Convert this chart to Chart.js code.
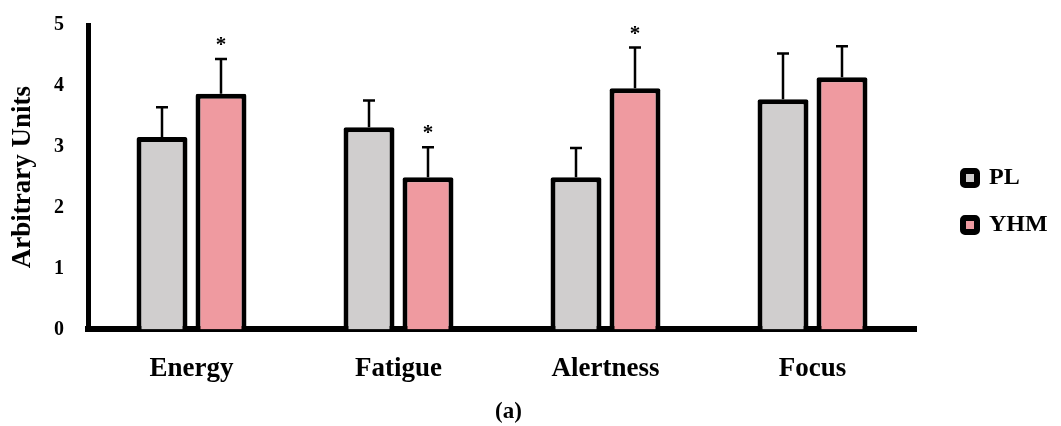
<!DOCTYPE html>
<html>
<head>
<meta charset="utf-8">
<script src="https://cdn.jsdelivr.net/npm/chart.js@4.4.0/dist/chart.umd.min.js"></script>
<style>
  html, body { margin: 0; padding: 0; background: #fff; }
  #contenedor { width: 1061px; height: 426px; }
</style>
</head>
<body>
<div id="contenedor"><canvas id="grafica-barras"></canvas></div>
<script>
// datos
var categorias = ['Energy', 'Fatigue', 'Alertness', 'Focus'];
var valoresPL = [3.16, 3.32, 2.50, 3.78];
var erroresPL = [0.49, 0.44, 0.48, 0.75];
var valoresYHM = [3.87, 2.50, 3.96, 4.14];
var erroresYHM = [0.57, 0.49, 0.67, 0.51];
var asteriscoPL = [false, false, false, false];
var asteriscoYHM = [true, true, true, false];
var ticksY = [0, 1, 2, 3, 4, 5];

var errores = [erroresPL, erroresYHM];
var asteriscos = [asteriscoPL, asteriscoYHM];
var fuente = 'Liberation Serif';

// barras de error (solo hacia arriba) y asteriscos
var pluginErrores = {
    id: 'errores',
    afterDatasetsDraw: function(chart){
        var ctx = chart.ctx;
        var escalaY = chart.scales.y;
        chart.data.datasets.forEach(function(ds, i){
            chart.getDatasetMeta(i).data.forEach(function(barra, j){
                var arriba = escalaY.getPixelForValue(ds.data[j] + errores[i][j]);
                ctx.save();
                ctx.strokeStyle = '#000';
                ctx.lineWidth = 2.5;
                ctx.beginPath();
                ctx.moveTo(barra.x, barra.y);
                ctx.lineTo(barra.x, arriba);
                ctx.moveTo(barra.x - 6, arriba);
                ctx.lineTo(barra.x + 6, arriba);
                ctx.stroke();
                if(asteriscos[i][j]){
                    ctx.fillStyle = '#000';
                    ctx.font = 'bold 21px "' + fuente + '"';
                    ctx.textAlign = 'center';
                    ctx.textBaseline = 'alphabetic';
                    ctx.fillText('*', barra.x, arriba - 8);
                }
                ctx.restore();
            });
        });
    }
};

// mueve la leyenda a su sitio despues del layout (y agranda su recorte)
var pluginLeyenda = {
    id: 'moverLeyenda',
    afterLayout: function(chart){
        var l = chart.legend;
        l.left += 24; l.right += 44;
        l.top -= 24; l.bottom -= 24;
    }
};

var canvas = document.getElementById('grafica-barras').getContext('2d');
var grafica = new Chart(canvas, {
    type: 'bar',
    data: {
        labels: categorias,
        datasets: [{
            label: 'PL',
            data: valoresPL,
            backgroundColor: '#D0CECE',
            borderColor: '#000',
            borderWidth: 5,
            borderRadius: 2,
            barPercentage: 0.864,
            categoryPercentage: 0.57
        },{
            label: 'YHM',
            data: valoresYHM,
            backgroundColor: '#EF9AA0',
            borderColor: '#000',
            borderWidth: 5,
            borderRadius: 2,
            barPercentage: 0.864,
            categoryPercentage: 0.57
        }]
    },
    options: {
        responsive: true,
        maintainAspectRatio: false,
        animation: false,
        layout: { padding: { top: 25, right: 44, bottom: 0, left: 0 } },
        plugins: {
            tooltip: { enabled: false },
            legend: {
                position: 'right',
                maxWidth: 101,
                labels: {
                    color: '#000',
                    font: { family: fuente, size: 24, weight: 'bold' },
                    boxWidth: 14,
                    boxHeight: 14,
                    padding: 23,
                    useBorderRadius: true,
                    borderRadius: 2,
                    generateLabels: function(chart){
                        var items = Chart.defaults.plugins.legend.labels.generateLabels(chart);
                        items.forEach(function(it){ it.lineWidth = 6; });
                        return items;
                    }
                }
            },
            title: {
                display: true,
                position: 'bottom',
                text: '(a)',
                color: '#000',
                font: { family: fuente, size: 23, weight: 'bold' },
                padding: { top: 5, bottom: 0 }
            }
        },
        scales: {
            x: {
                z: 1,
                grid: { display: false, drawTicks: false },
                border: { display: true, color: '#000', width: 6 },
                ticks: { color: '#000', padding: 23, font: { family: fuente, size: 27, weight: 'bold' } },
                afterFit: function(s){ s.height = 64; }
            },
            y: {
                z: 1,
                min: 0,
                max: 5,
                grid: { display: false, drawTicks: false },
                border: { display: true, color: '#000', width: 5 },
                afterBuildTicks: function(s){ s.ticks = ticksY.map(function(v){ return { value: v }; }); },
                ticks: { color: '#000', padding: 24, font: { family: fuente, size: 20, weight: 'bold' } },
                title: {
                    display: true,
                    text: 'Arbitrary Units',
                    color: '#000',
                    font: { family: fuente, size: 27, weight: 'bold' },
                    padding: { top: 7, bottom: 0 }
                },
                afterFit: function(s){ s.width = 88; s.paddingTop = 0; s.paddingBottom = 0; }
            }
        }
    },
    plugins: [pluginErrores, pluginLeyenda]
});
</script>
</body>
</html>
